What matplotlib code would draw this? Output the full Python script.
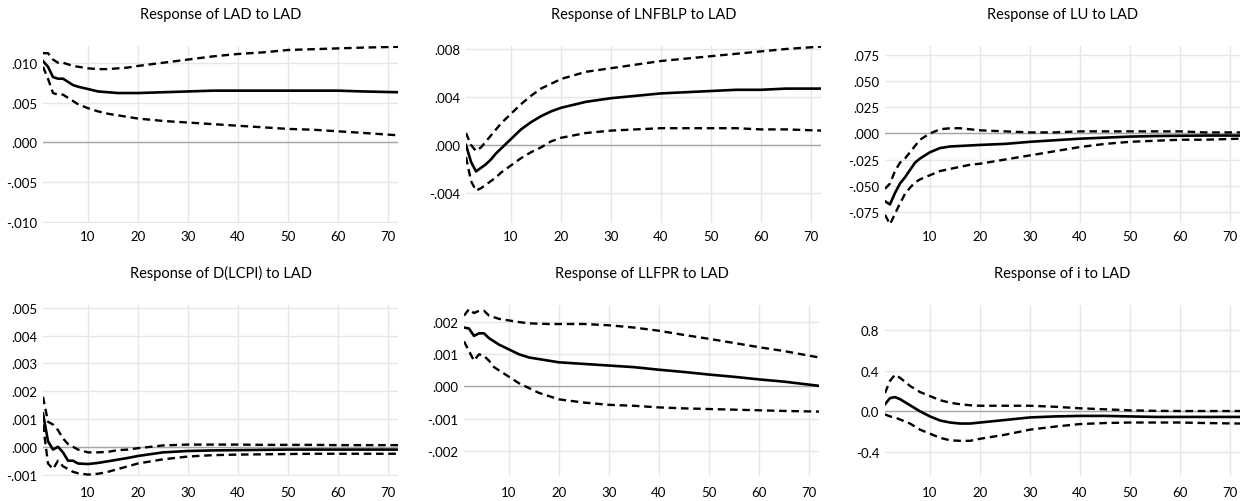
import matplotlib
matplotlib.use("Agg")
import matplotlib.pyplot as plt
from matplotlib.ticker import FixedLocator

plt.rcParams["font.family"] = ["Lato", "DejaVu Sans"]

periods = [1, 2, 3, 4, 5, 6, 7, 8, 10, 12, 14, 16, 18, 20, 25, 30, 35, 40, 45, 50, 55, 60, 65, 72]

lad_resp = [.0102, .0095, .0082, .0080, .0080, .0076, .0072, .0070, .0067, .0064, .0063, .0062,
            .0062, .0062, .0063, .0064, .0065, .0065, .0065, .0065, .0065, .0065, .0064, .0063]
lad_hi = [.0112, .0112, .0104, .0100, .0100, .0098, .0096, .0095, .0093, .0092, .0092, .0093,
          .0094, .0096, .0100, .0104, .0108, .0111, .0113, .0116, .0117, .0118, .0119, .0120]
lad_lo = [.0095, .0080, .0062, .0060, .0060, .0056, .0052, .0048, .0043, .0039, .0036, .0034,
          .0032, .0030, .0027, .0025, .0023, .0021, .0019, .0017, .0016, .0014, .0012, .0009]

lnfblp_resp = [.0000, -.0014, -.0022, -.0019, -.0016, -.0012, -.0007, -.0003, .0005, .0013, .0019, .0024,
               .0028, .0031, .0036, .0039, .0041, .0043, .0044, .0045, .0046, .0046, .0047, .0047]
lnfblp_hi = [.0010, .0000, -.0005, -.0002, .0003, .0008, .0013, .0018, .0026, .0034, .0041, .0047,
             .0051, .0055, .0061, .0064, .0067, .0070, .0072, .0074, .0076, .0078, .0080, .0082]
lnfblp_lo = [-.0010, -.0030, -.0038, -.0036, -.0033, -.0030, -.0027, -.0023, -.0017, -.0011, -.0006, -.0002,
             .0003, .0006, .0010, .0012, .0013, .0014, .0014, .0014, .0014, .0013, .0013, .0012]

lu_resp = [-.065, -.068, -.057, -.048, -.042, -.035, -.028, -.024, -.018, -.014, -.0125, -.012,
           -.0115, -.011, -.010, -.008, -.0065, -.005, -.004, -.003, -.0025, -.0022, -.002, -.002]
lu_hi = [-.053, -.048, -.036, -.028, -.024, -.018, -.012, -.006, .000, .004, .005, .005,
         .004, .003, .002, .001, .001, .002, .002, .002, .002, .002, .001, .001]
lu_lo = [-.078, -.087, -.077, -.067, -.058, -.052, -.047, -.044, -.040, -.036, -.034, -.032,
         -.030, -.029, -.025, -.021, -.017, -.013, -.010, -.008, -.007, -.006, -.006, -.005]

lcpi_resp = [.0012, .0002, -.0001, .0000, -.0002, -.0005, -.0005, -.0006, -.00062, -.00058, -.00052, -.00046,
             -.0004, -.00033, -.0002, -.00015, -.00013, -.00012, -.00011, -.0001, -.0001, -.0001, -.0001, -.0001]
lcpi_hi = [.0018, .0009, .0008, .0006, .0003, .0001, .0000, -.0001, -.0002, -.0002, -.00018, -.00012,
           -.0001, -.00005, .00005, .00008, .00008, .00008, .00007, .00007, .00007, .00006, .00006, .00006]
lcpi_lo = [.0008, -.0006, -.0008, -.0005, -.0007, -.0008, -.0009, -.00095, -.0010, -.00097, -.0009, -.0008,
           -.0007, -.0006, -.00045, -.00035, -.0003, -.00028, -.00027, -.00026, -.00025, -.00025, -.00025, -.00025]

llfpr_resp = [.00183, .0018, .00157, .00165, .00165, .0015, .0014, .0013, .00115, .0010, .0009, .00085,
              .0008, .00075, .0007, .00065, .0006, .00052, .00045, .00037, .0003, .00022, .00015, .00002]
llfpr_hi = [.0022, .0024, .00228, .00235, .00235, .0022, .00215, .0021, .00205, .0020, .00196, .00195,
            .00194, .00194, .00194, .0019, .00183, .00173, .0016, .00148, .00135, .00122, .0011, .0009]
llfpr_lo = [.0014, .0011, .0008, .0010, .00095, .0008, .0006, .0005, .0003, .0001, -.00005, -.0002,
            -.0003, -.0004, -.0005, -.00057, -.0006, -.00065, -.00068, -.0007, -.00072, -.00074, -.00076, -.00078]

i_resp = [.07, .13, .14, .12, .09, .06, .03, .00, -.05, -.09, -.11, -.12,
          -.12, -.11, -.085, -.06, -.05, -.045, -.045, -.05, -.055, -.055, -.055, -.055]
i_hi = [.18, .30, .36, .33, .29, .25, .22, .19, .15, .11, .085, .07,
        .06, .055, .055, .055, .045, .03, .02, .01, .005, .003, .003, .003]
i_lo = [-.03, -.05, -.06, -.08, -.10, -.12, -.15, -.18, -.22, -.26, -.285, -.29,
        -.29, -.27, -.23, -.18, -.15, -.125, -.115, -.11, -.11, -.11, -.115, -.12]

titles = ["Response of LAD to LAD", "Response of LNFBLP to LAD", "Response of LU to LAD",
          "Response of D(LCPI) to LAD", "Response of LLFPR to LAD", "Response of i to LAD"]
series = [(lad_resp, lad_hi, lad_lo), (lnfblp_resp, lnfblp_hi, lnfblp_lo), (lu_resp, lu_hi, lu_lo),
          (lcpi_resp, lcpi_hi, lcpi_lo), (llfpr_resp, llfpr_hi, llfpr_lo), (i_resp, i_hi, i_lo)]
y_ticks = [[.010, .005, .000, -.005, -.010],
           [.008, .004, .000, -.004],
           [.075, .050, .025, .000, -.025, -.050, -.075],
           [.005, .004, .003, .002, .001, .000, -.001],
           [.002, .001, .000, -.001, -.002],
           [0.8, 0.4, 0.0, -0.4]]
y_labels = [[".010", ".005", ".000", "-.005", "-.010"],
            [".008", ".004", ".000", "-.004"],
            [".075", ".050", ".025", ".000", "-.025", "-.050", "-.075"],
            [".005", ".004", ".003", ".002", ".001", ".000", "-.001"],
            [".002", ".001", ".000", "-.001", "-.002"],
            ["0.8", "0.4", "0.0", "-0.4"]]
y_limits = [(-0.0101, 0.0121), (-0.0065, 0.00825), (-0.0858, 0.0838),
            (-0.00105, 0.0051), (-0.00278, 0.00253), (-0.636, 1.046)]
x_ticks = [10, 20, 30, 40, 50, 60, 70]

W, H = 1248, 502
# axes boxes in pixels: left, top, right, bottom
boxes = [(43, 47, 398, 224), (466, 47, 821, 224), (885, 47, 1240, 224),
         (43, 306, 398, 477), (464, 306, 819, 477), (885, 306, 1240, 477)]

fig = plt.figure(figsize=(W / 100, H / 100), dpi=100)
grid_c = "#e6e6e6"

for k in range(6):
    l, t, r, b = boxes[k]
    ax = fig.add_axes([l / W, 1 - b / H, (r - l) / W, (b - t) / H])
    resp, hi, lo = series[k]
    ax.plot(periods, resp, color="black", lw=1.9, solid_joinstyle="round", zorder=4)
    ax.plot(periods, hi, color="black", lw=1.7, dashes=(3.2, 2.0), zorder=4)
    ax.plot(periods, lo, color="black", lw=1.7, dashes=(3.2, 2.0), zorder=4)
    ax.axhline(0, color="#a6a6a6", lw=1.0, zorder=2)
    ax.set_xlim(1, 72)
    ax.set_ylim(*y_limits[k])
    ax.xaxis.set_major_locator(FixedLocator(x_ticks))
    ax.set_yticks(y_ticks[k])
    ax.set_yticklabels(y_labels[k])
    ax.grid(True, color=grid_c, lw=1.0, zorder=0)
    ax.set_axisbelow(True)
    for s in ax.spines.values():
        s.set_visible(False)
    ax.tick_params(length=0, labelsize=9.5, colors="black", pad=4)
    ax.tick_params(axis="x", pad=(5 if k < 3 else 7))
    ax.set_title(titles[k], fontsize=10.5, pad=20)

fig.savefig("out.png", dpi=100)
